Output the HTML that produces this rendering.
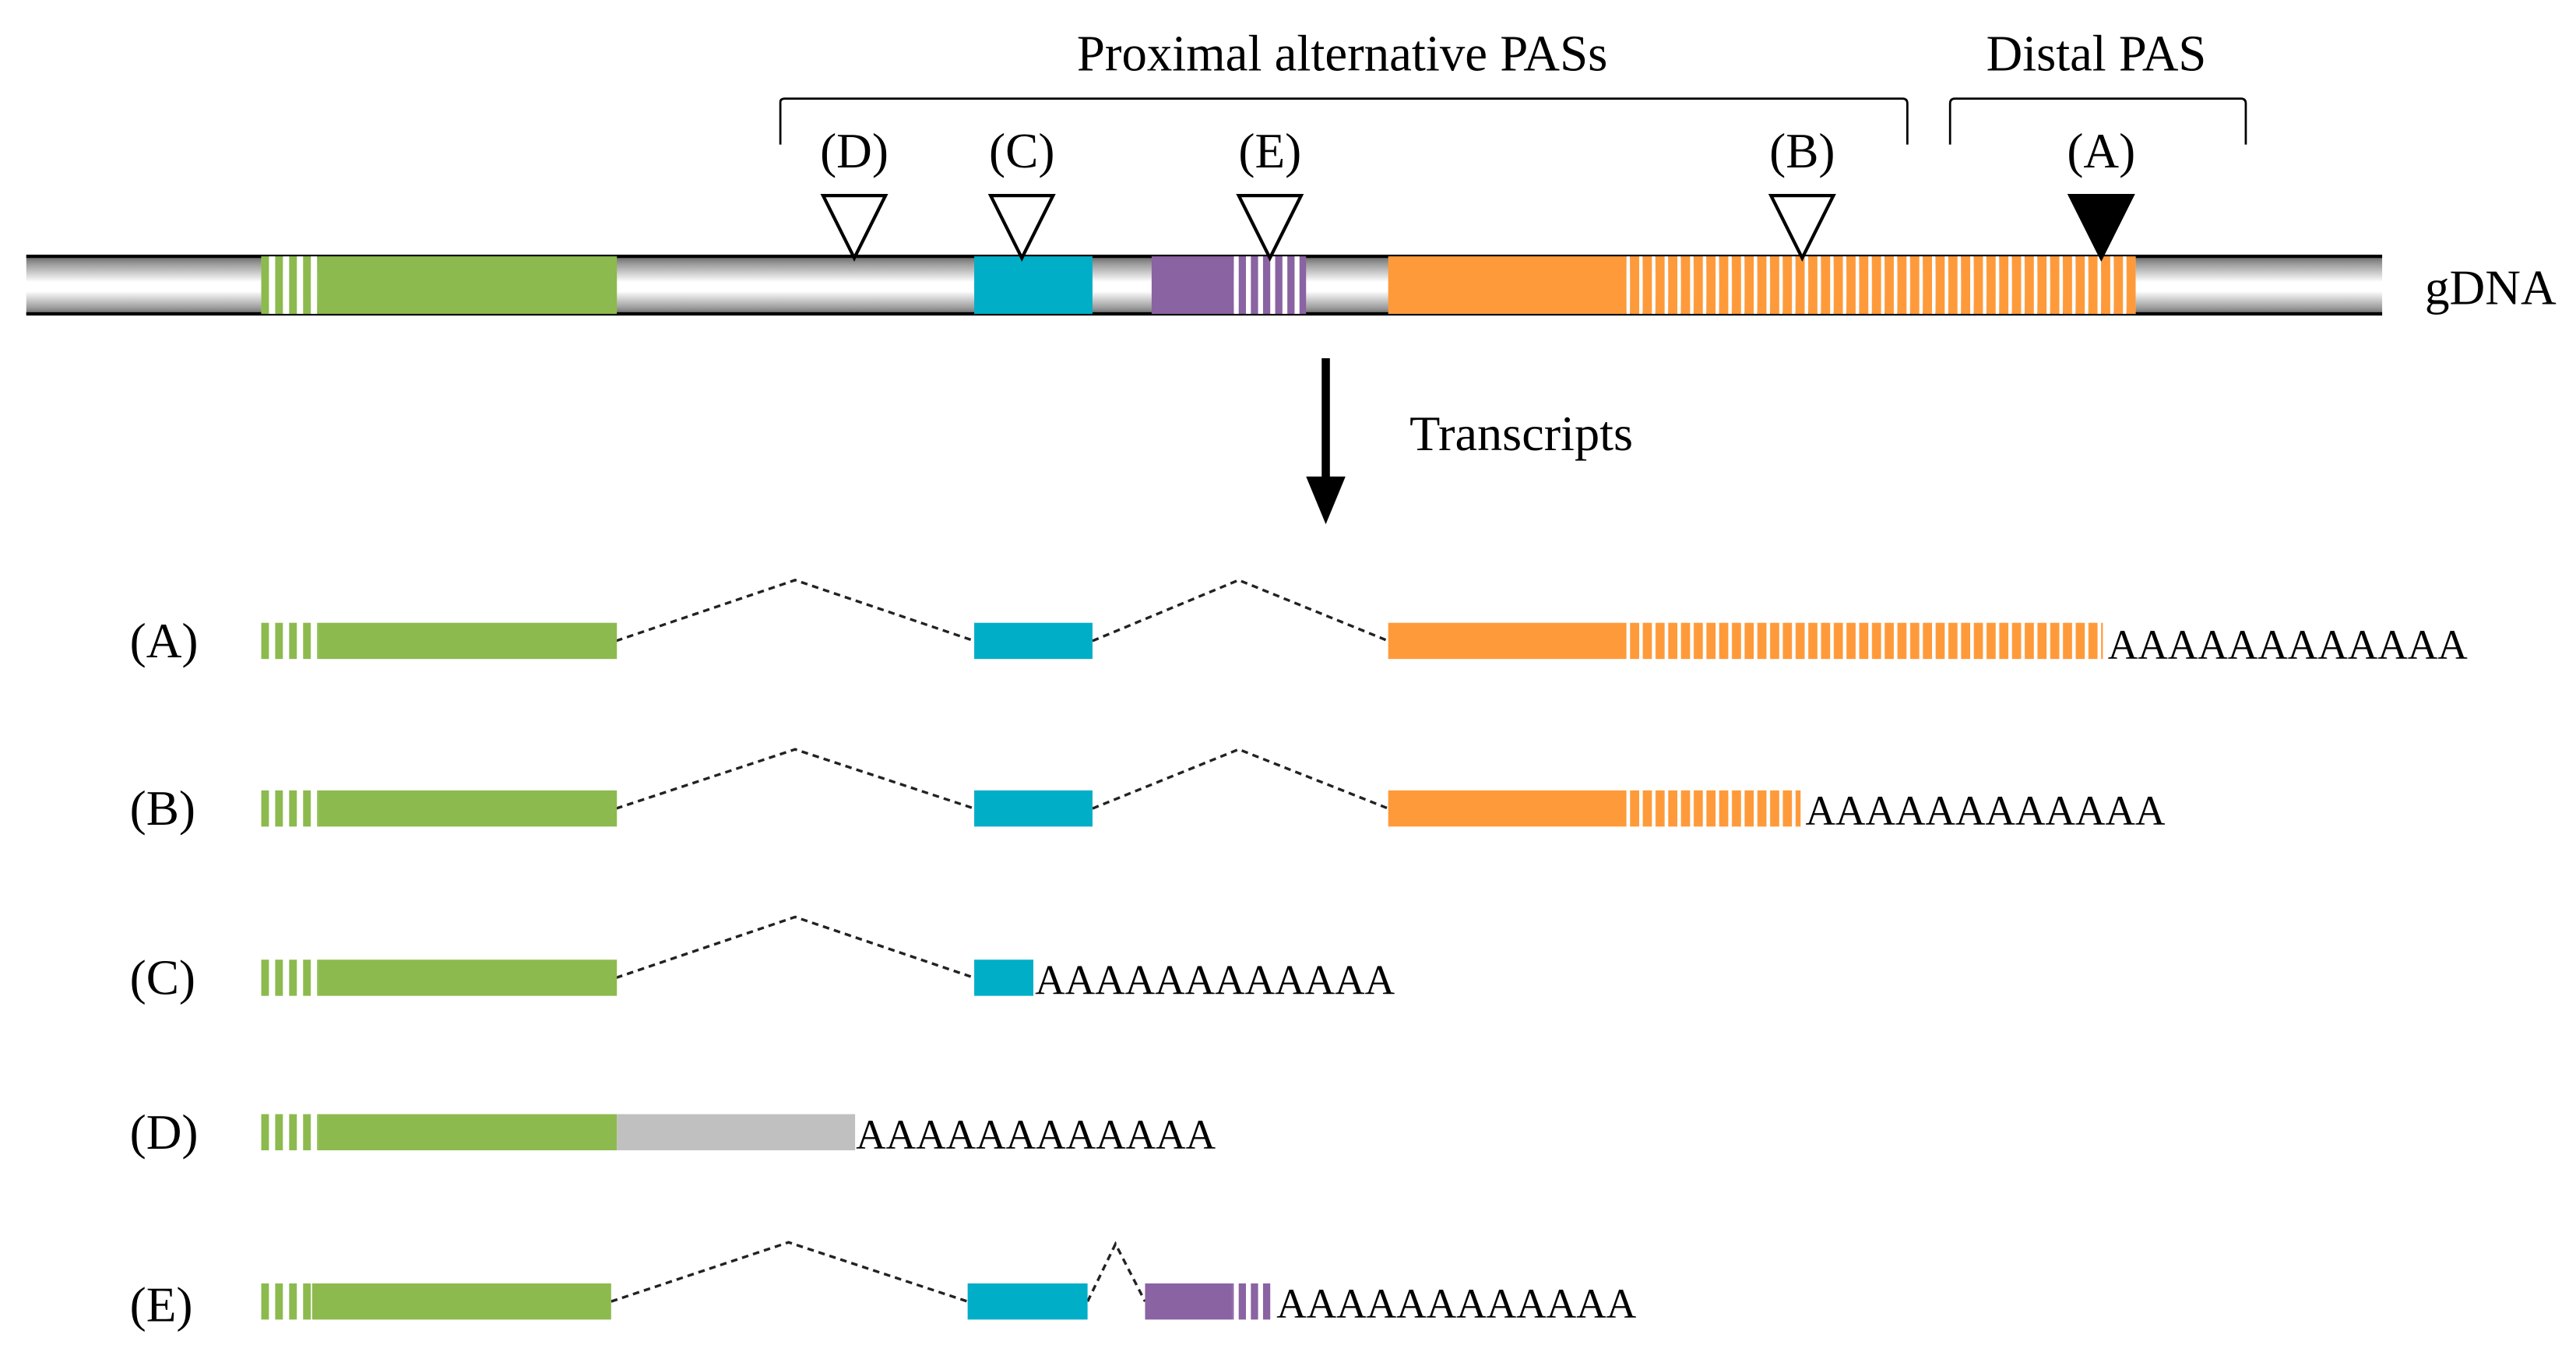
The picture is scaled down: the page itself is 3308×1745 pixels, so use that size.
<!DOCTYPE html>
<html><head><meta charset="utf-8"><style>
html,body{margin:0;padding:0;background:#fff;}
svg{display:block;}
text{font-family:"Liberation Serif",serif;fill:#000;}
</style></head><body>
<svg width="3308" height="1745" viewBox="0 0 1568 827" preserveAspectRatio="none" xmlns="http://www.w3.org/2000/svg">
<defs>
<linearGradient id="bar" x1="0" y1="0" x2="0" y2="1">
<stop offset="0" stop-color="#5a5a5a"/><stop offset="0.15" stop-color="#9a9a9a"/><stop offset="0.45" stop-color="#ffffff"/><stop offset="0.6" stop-color="#ffffff"/><stop offset="0.88" stop-color="#9a9a9a"/><stop offset="1" stop-color="#5a5a5a"/>
</linearGradient>
<pattern id="pg" x="159" y="0" width="8.5" height="10" patternUnits="userSpaceOnUse"><rect width="4.7" height="10" fill="#8cba4e"/><rect x="4.7" width="3.8" height="10" fill="#fff"/></pattern>
<pattern id="po" x="990" y="0" width="7.75" height="10" patternUnits="userSpaceOnUse"><rect width="2.2" height="10" fill="#fff"/><rect x="2.2" width="5.55" height="10" fill="#ff9a3a"/></pattern>
<pattern id="pp" x="751" y="0" width="7.4" height="10" patternUnits="userSpaceOnUse"><rect width="3" height="10" fill="#fff"/><rect x="3" width="4.4" height="10" fill="#8a63a3"/></pattern>
</defs>

<text x="817" y="43" font-size="31" text-anchor="middle" textLength="323" lengthAdjust="spacingAndGlyphs">Proximal alternative PASs</text>
<text x="1276" y="43" font-size="31" text-anchor="middle" textLength="134" lengthAdjust="spacingAndGlyphs">Distal PAS</text>
<path d="M475 88 V62 Q475 60 478 60 H1158 Q1161 60 1161 63 V88" fill="none" stroke="#000" stroke-width="1.3"/>
<path d="M1187 88 V63 Q1187 60 1190 60 H1364 Q1367 60 1367 63 V88" fill="none" stroke="#000" stroke-width="1.3"/>

<g font-size="30" text-anchor="middle">
<text x="520" y="102">(D)</text><text x="622" y="102">(C)</text><text x="773" y="102">(E)</text><text x="1097" y="102">(B)</text><text x="1279" y="102">(A)</text>
</g>

<rect x="16" y="155" width="1434" height="37" fill="url(#bar)"/>
<line x1="16" y1="156" x2="1450" y2="156" stroke="#000" stroke-width="2"/>
<line x1="16" y1="191" x2="1450" y2="191" stroke="#000" stroke-width="2"/>
<rect x="159" y="156" width="34.5" height="35" fill="url(#pg)"/>
<rect x="193.5" y="156" width="182" height="35" fill="#8cba4e"/>
<rect x="593" y="156" width="72" height="35" fill="#00aec8"/>
<rect x="701" y="156" width="50" height="35" fill="#8a63a3"/>
<rect x="751" y="156" width="44" height="35" fill="url(#pp)"/>
<rect x="845" y="156" width="145" height="35" fill="#ff9a3a"/>
<rect x="990" y="156" width="310" height="35" fill="url(#po)"/>
<text x="1476" y="185" font-size="30" textLength="80" lengthAdjust="spacingAndGlyphs">gDNA</text>

<g stroke="#000" stroke-width="2" fill="#fff">
<polygon points="501,119 539,119 520,157"/>
<polygon points="603,119 641,119 622,157"/>
<polygon points="754,119 792,119 773,157"/>
<polygon points="1078,119 1116,119 1097,157"/>
<polygon points="1260,119 1298,119 1279,157" fill="#000"/>
</g>

<line x1="807" y1="218" x2="807" y2="295" stroke="#000" stroke-width="5"/>
<polygon points="795,290 819,290 807,319" fill="#000"/>
<text x="858" y="274" font-size="30" textLength="136" lengthAdjust="spacingAndGlyphs">Transcripts</text>

<g font-size="30">
<text x="79" y="400">(A)</text>
<text x="79" y="502">(B)</text>
<text x="79" y="605">(C)</text>
<text x="79" y="699">(D)</text>
<text x="79" y="804">(E)</text>
</g>

<g stroke="#222" stroke-width="1.6" stroke-dasharray="4,3" fill="none">
<polyline points="375,390 484,353 593,390"/>
<polyline points="665,390 754,353 845,390"/>
<polyline points="375,492 484,456 593,492"/>
<polyline points="665,492 754,456 845,492"/>
<polyline points="375,595 484,558 593,595"/>
<polyline points="372,792 480,756 589,792"/>
<polyline points="662,792 679,757 697,792"/>
</g>

<g font-size="25.5">
<rect x="159" y="379" width="34.5" height="22" fill="url(#pg)"/>
<rect x="193.5" y="379" width="182" height="22" fill="#8cba4e"/>
<rect x="593" y="379" width="72" height="22" fill="#00aec8"/>
<rect x="845" y="379" width="145" height="22" fill="#ff9a3a"/>
<rect x="990" y="379" width="290" height="22" fill="url(#po)"/>
<text x="1283" y="401" textLength="219" lengthAdjust="spacingAndGlyphs">AAAAAAAAAAAA</text>
<rect x="159" y="481" width="34.5" height="22" fill="url(#pg)"/>
<rect x="193.5" y="481" width="182" height="22" fill="#8cba4e"/>
<rect x="593" y="481" width="72" height="22" fill="#00aec8"/>
<rect x="845" y="481" width="145" height="22" fill="#ff9a3a"/>
<rect x="990" y="481" width="106" height="22" fill="url(#po)"/>
<text x="1099" y="502" textLength="219" lengthAdjust="spacingAndGlyphs">AAAAAAAAAAAA</text>
<rect x="159" y="584" width="34.5" height="22" fill="url(#pg)"/>
<rect x="193.5" y="584" width="182" height="22" fill="#8cba4e"/>
<rect x="593" y="584" width="36" height="22" fill="#00aec8"/>
<text x="630" y="605" textLength="219" lengthAdjust="spacingAndGlyphs">AAAAAAAAAAAA</text>
<rect x="159" y="678" width="34.5" height="22" fill="url(#pg)"/>
<rect x="193.5" y="678" width="182" height="22" fill="#8cba4e"/>
<rect x="375.5" y="678" width="145" height="22" fill="#c0c0c0"/>
<text x="521" y="699" textLength="219" lengthAdjust="spacingAndGlyphs">AAAAAAAAAAAA</text>
<rect x="159" y="781" width="31" height="22" fill="url(#pg)"/>
<rect x="190" y="781" width="182" height="22" fill="#8cba4e"/>
<rect x="589" y="781" width="73" height="22" fill="#00aec8"/>
<rect x="697" y="781" width="53" height="22" fill="#8a63a3"/>
<rect x="750" y="781" width="24" height="22" fill="url(#pp)"/>
<text x="777" y="802" textLength="219" lengthAdjust="spacingAndGlyphs">AAAAAAAAAAAA</text>
</g>
</svg>
</body></html>
